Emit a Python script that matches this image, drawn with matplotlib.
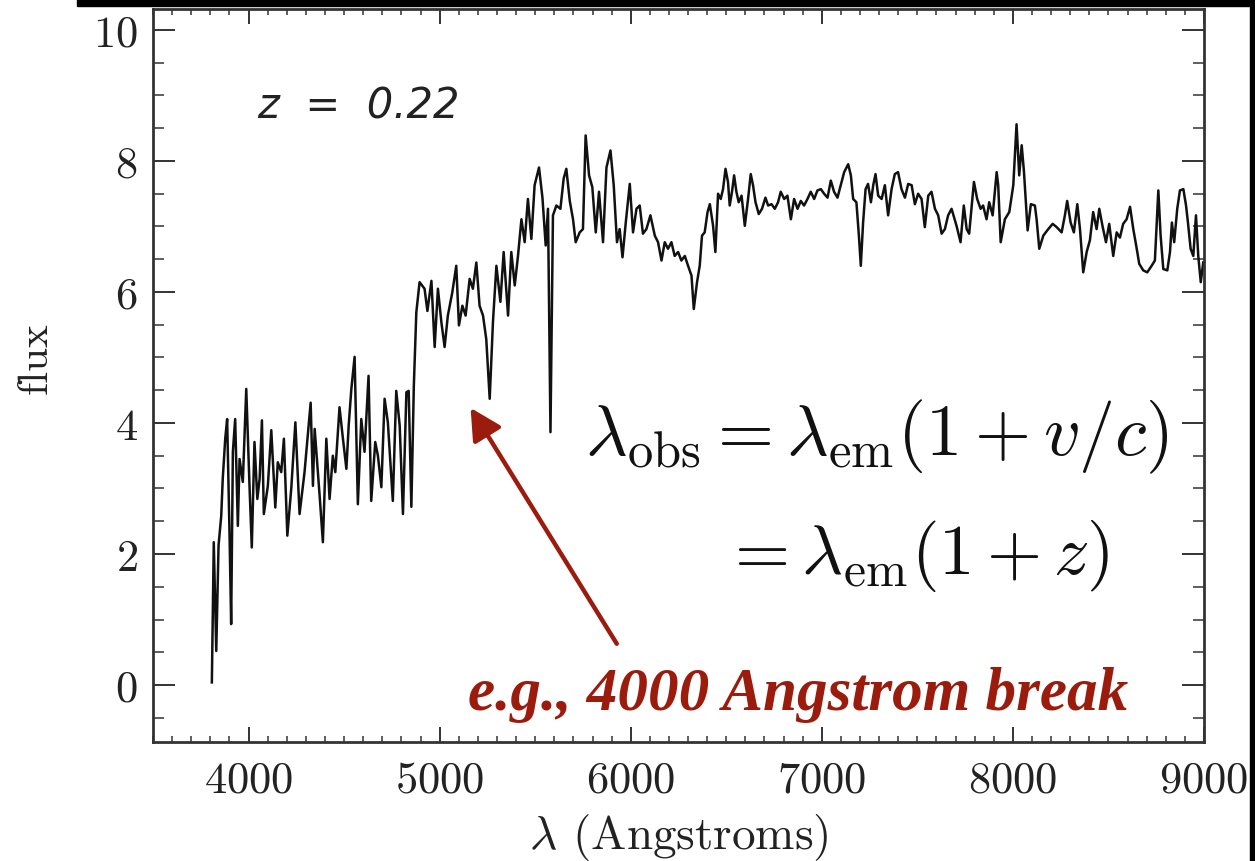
import numpy as np
import matplotlib
matplotlib.use("Agg")
import matplotlib.pyplot as plt
from matplotlib.patches import Rectangle
from matplotlib.ticker import MultipleLocator

plt.rcParams["font.family"] = ["cmr10", "DejaVu Serif"]
plt.rcParams["mathtext.fontset"] = "cm"
plt.rcParams["axes.formatter.use_mathtext"] = True

# galaxy spectrum, observed wavelength (Angstrom) and flux
wave = [
    3808, 3818, 3831, 3843, 3857, 3865, 3878, 3888, 3901, 3909, 3918, 3930, 3944, 3953,
    3970, 3988, 4005, 4017, 4031, 4046, 4058, 4070, 4080, 4101, 4119, 4140, 4153, 4171,
    4185, 4203, 4224, 4245, 4267, 4293, 4310, 4325, 4337, 4346, 4372, 4389, 4407, 4424,
    4441, 4454, 4476, 4494, 4512, 4524, 4538, 4555, 4572, 4590, 4607, 4628, 4642, 4663,
    4677, 4695, 4712, 4729, 4755, 4773, 4791, 4808, 4826, 4838, 4852, 4865, 4878, 4895,
    4921, 4936, 4957, 4974, 4991, 5009, 5026, 5043, 5066, 5087, 5101, 5119, 5136, 5157,
    5174, 5192, 5209, 5227, 5244, 5262, 5279, 5297, 5318, 5335, 5358, 5375, 5393, 5410,
    5428, 5445, 5462, 5480, 5497, 5520, 5538, 5555, 5567, 5580, 5593, 5611, 5632, 5649,
    5663, 5681, 5698, 5712, 5733, 5750, 5764, 5782, 5799, 5817, 5834, 5855, 5873, 5894,
    5911, 5928, 5942, 5957, 5974, 5995, 6012, 6030, 6047, 6064, 6082, 6103, 6126, 6143,
    6161, 6178, 6195, 6213, 6230, 6248, 6265, 6283, 6300, 6318, 6330, 6347, 6361, 6373,
    6387, 6402, 6414, 6431, 6443, 6457, 6471, 6483, 6496, 6509, 6518, 6530, 6541, 6553,
    6565, 6580, 6597, 6614, 6628, 6640, 6653, 6670, 6687, 6705, 6719, 6737, 6754, 6771,
    6785, 6803, 6820, 6838, 6855, 6873, 6890, 6907, 6925, 6942, 6960, 6977, 6995, 7012,
    7030, 7047, 7064, 7082, 7099, 7117, 7138, 7152, 7164, 7181, 7194, 7204, 7216, 7229,
    7242, 7257, 7269, 7281, 7295, 7313, 7330, 7347, 7365, 7382, 7399, 7417, 7435, 7452,
    7470, 7487, 7504, 7522, 7539, 7557, 7574, 7592, 7609, 7627, 7644, 7661, 7679, 7705,
    7726, 7743, 7758, 7771, 7796, 7813, 7831, 7844, 7862, 7876, 7894, 7915, 7923, 7936,
    7958, 7981, 8002, 8019, 8033, 8046, 8058, 8077, 8094, 8115, 8124, 8138, 8159, 8185,
    8208, 8229, 8255, 8272, 8284, 8302, 8319, 8337, 8351, 8368, 8386, 8403, 8420, 8438,
    8452, 8470, 8487, 8504, 8525, 8543, 8560, 8577, 8595, 8613, 8630, 8648, 8661, 8682,
    8703, 8726, 8743, 8761, 8773, 8787, 8808, 8822, 8832, 8844, 8860, 8874, 8892, 8906,
    8916, 8930, 8944, 8958, 8970, 8983, 8996,
]
flux = [
    0.04, 2.18, 0.52, 2.13, 2.58, 3.15, 3.76, 4.06, 2.23, 0.93, 3.56, 4.06, 2.43, 3.45,
    3.10, 4.52, 3.04, 2.10, 3.71, 2.84, 3.15, 4.04, 2.61, 3.04, 3.89, 2.71, 3.40, 3.25,
    3.76, 2.28, 3.02, 4.01, 2.61, 3.25, 3.81, 4.31, 3.04, 3.91, 2.89, 2.18, 3.76, 2.84,
    3.50, 3.25, 4.24, 3.76, 3.30, 3.96, 4.52, 5.01, 2.76, 4.06, 3.56, 4.72, 2.81, 3.71,
    3.50, 3.02, 4.37, 4.01, 2.81, 4.49, 3.96, 2.61, 4.47, 4.49, 2.72, 4.57, 5.69, 6.15,
    6.05, 5.71, 6.17, 5.16, 6.05, 5.54, 5.16, 5.64, 5.99, 6.40, 5.49, 5.79, 5.64, 6.20,
    6.05, 6.45, 5.79, 5.64, 5.28, 4.37, 5.54, 6.40, 5.85, 6.61, 5.64, 6.61, 6.10, 6.55,
    7.11, 6.76, 7.42, 6.81, 7.63, 7.90, 7.44, 6.71, 7.27, 3.86, 7.17, 7.32, 7.27, 7.73,
    7.88, 7.39, 7.11, 6.76, 6.91, 6.96, 8.39, 7.78, 7.60, 6.91, 7.53, 6.76, 7.90, 8.16,
    7.63, 6.76, 6.96, 6.53, 7.06, 7.65, 6.91, 7.27, 7.32, 6.89, 6.96, 7.17, 6.86, 6.76,
    6.48, 6.76, 6.66, 6.76, 6.55, 6.61, 6.48, 6.55, 6.40, 6.25, 5.74, 6.15, 6.40, 6.86,
    6.91, 7.22, 7.34, 7.01, 6.61, 7.50, 7.42, 7.57, 7.88, 7.68, 7.32, 7.53, 7.78, 7.53,
    7.37, 7.47, 7.01, 7.42, 7.80, 7.63, 7.37, 7.19, 7.27, 7.44, 7.32, 7.34, 7.27, 7.37,
    7.53, 7.42, 7.47, 7.11, 7.42, 7.27, 7.39, 7.32, 7.42, 7.53, 7.42, 7.55, 7.57, 7.50,
    7.44, 7.70, 7.53, 7.44, 7.63, 7.83, 7.95, 7.78, 7.42, 7.37, 6.86, 6.40, 7.06, 7.57,
    7.65, 7.37, 7.63, 7.80, 7.47, 7.42, 7.63, 7.17, 7.57, 7.80, 7.83, 7.57, 7.44, 7.65,
    7.63, 7.34, 7.50, 7.42, 6.99, 7.47, 7.53, 7.27, 7.17, 6.89, 6.96, 7.17, 7.27, 7.01,
    6.76, 7.32, 6.96, 6.89, 7.68, 7.42, 7.27, 7.32, 7.11, 7.37, 7.17, 7.83, 7.63, 6.76,
    7.11, 7.22, 7.63, 8.56, 7.78, 8.24, 7.83, 6.94, 7.34, 7.32, 7.11, 6.66, 6.86, 6.96,
    7.04, 6.99, 6.91, 7.17, 7.39, 7.06, 6.91, 7.34, 6.96, 6.30, 6.61, 6.79, 7.22, 6.96,
    7.27, 6.99, 6.76, 7.04, 6.55, 6.91, 6.83, 7.04, 7.11, 7.30, 6.96, 6.66, 6.43, 6.33,
    6.30, 6.40, 6.48, 7.55, 6.86, 6.35, 6.33, 6.61, 7.06, 6.76, 7.27, 7.55, 7.57, 7.32,
    7.06, 6.66, 6.55, 7.17, 6.55, 6.15, 6.45,
]

redshift_label = "z  =  0.22"
eq_line1 = r"$\lambda_{\rm obs} = \lambda_{\rm em}(1 + v/c)$"
eq_line2 = r"$= \lambda_{\rm em}(1 + z)$"
note = "e.g., 4000 Angstrom break"
note_xy = (5147, -0.14)
arrow_tip = (5162, 4.23)
arrow_tail = (5927, 0.63)

red = "#9b1b0d"
axis_gray = "#333333"

fig = plt.figure(figsize=(12.55, 8.62), dpi=100)
ax = fig.add_axes([153 / 1255, 1 - 743 / 862, (1204 - 153) / 1255, (743 - 10) / 862])

ax.plot(wave, flux, color="#111111", linewidth=1.8)

ax.set_xlim(3500, 9000)
ax.set_ylim(-0.87, 10.32)
ax.xaxis.set_major_locator(MultipleLocator(1000))
ax.xaxis.set_minor_locator(MultipleLocator(100))
ax.yaxis.set_major_locator(MultipleLocator(2))
ax.yaxis.set_minor_locator(MultipleLocator(0.5))

ax.tick_params(which="both", direction="in", top=True, right=True,
               color=axis_gray, labelcolor="#222222", labelsize=32)
ax.tick_params(axis="x", which="major", length=11, width=1.4, pad=13)
ax.tick_params(axis="x", which="minor", length=4.5, width=1.1)
ax.tick_params(axis="y", which="major", length=16, width=1.4, pad=11)
ax.tick_params(axis="y", which="minor", length=8, width=1.1)
for s in ax.spines.values():
    s.set_linewidth(2.0)
    s.set_color(axis_gray)

ax.set_xlabel(r"$\lambda$ (Angstroms)", fontsize=34, color="#222222")
ax.set_ylabel("flux", fontsize=31, color="#222222")
ax.xaxis.set_label_coords(0.5, -0.094)
ax.yaxis.set_label_coords(-0.094, 0.525)

ax.text(4047, 8.84, redshift_label, fontsize=30, family="DejaVu Sans",
        style="italic", color="#222222", va="center", ha="left")

ax.text(5760, 3.80, eq_line1, fontsize=52, color="#111111", va="center", ha="left")
ax.text(6480, 1.98, eq_line2, fontsize=51, color="#111111", va="center", ha="left")

ax.annotate("", xy=arrow_tip, xytext=arrow_tail,
            arrowprops=dict(arrowstyle="-|>,head_length=0.95,head_width=0.5",
                            mutation_scale=20, lw=3.2, color=red,
                            shrinkA=0, shrinkB=0))
ax.text(note_xy[0], note_xy[1], note, fontsize=44, family="Liberation Serif",
        style="italic", weight="bold", color=red, va="center", ha="left")

# black frame strips along the top and right edge
fig.add_artist(Rectangle((77 / 1255, 1 - 7 / 862), 1, 7 / 862,
                         transform=fig.transFigure, color="black", zorder=10))
fig.add_artist(Rectangle((1250 / 1255, 0), 5 / 1255, 1,
                         transform=fig.transFigure, color="black", zorder=10))

fig.savefig("out.png", dpi=100)
